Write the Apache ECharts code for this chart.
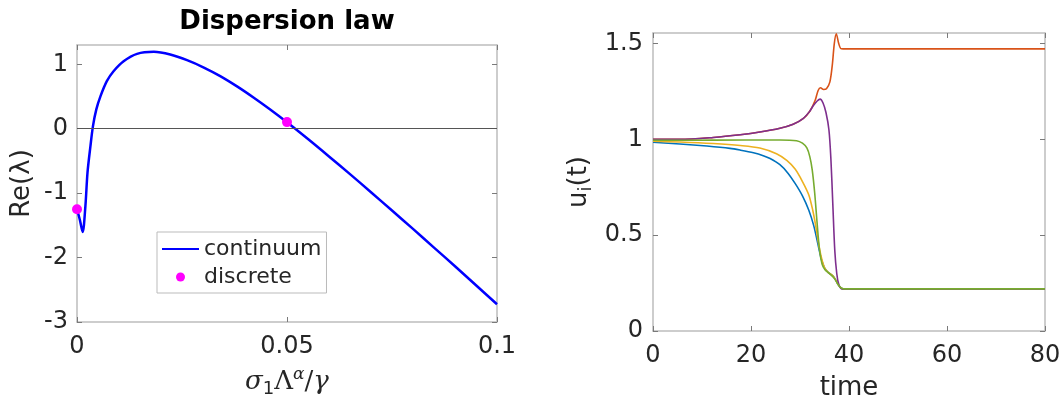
<!DOCTYPE html>
<html>
<head>
<meta charset="utf-8">
<script src="https://cdn.jsdelivr.net/npm/echarts@6/dist/echarts.min.js"></script>
<style>html,body{margin:0;padding:0;background:#fff;}#c{width:1064px;height:406px;}</style>
</head>
<body>
<div id="c"></div>
<script>
// ---------- Left panel data: dispersion law ----------
const contX = [0, 0.0007, 0.00135, 0.002, 0.0025, 0.0032, 0.0038, 0.0046, 0.0056, 0.0071, 0.0087, 0.0111, 0.0143, 0.0183, 0.0222, 0.0262, 0.0302, 0.0341, 0.0381, 0.0421, 0.046, 0.05, 0.055, 0.06, 0.065, 0.07, 0.075, 0.08, 0.085, 0.09, 0.095, 0.1];
const contY = [-1.25, -1.42, -1.603, -1.2, -0.68, -0.27, 0.04, 0.30, 0.506, 0.738, 0.893, 1.048, 1.163, 1.194, 1.152, 1.064, 0.95, 0.817, 0.657, 0.481, 0.298, 0.10, -0.16, -0.43, -0.705, -0.985, -1.27, -1.555, -1.845, -2.135, -2.43, -2.725];
const discX = [0, 0.05];
const discY = [-1.25, 0.103];
const leftXTicks = [0, 0.05, 0.1];
const leftYTicks = [-3, -2, -1, 0, 1];

// ---------- Right panel data: u_i(t) ----------
const blueT = [0, 5.5, 11, 15.7, 17.8, 20.5, 22.5, 23.9, 25.9, 27.5, 29, 30.5, 31.8, 32.8, 33.6, 34.3, 35, 35.8, 36.7, 37.3, 38.0, 38.8, 80];
const blueU = [0.985, 0.976, 0.965, 0.953, 0.944, 0.93, 0.915, 0.9, 0.868, 0.825, 0.77, 0.705, 0.63, 0.55, 0.46, 0.38, 0.33, 0.305, 0.288, 0.265, 0.235, 0.22, 0.22];
const orangeT = [0, 5.5, 12.3, 17.8, 21.8, 25.9, 28.6, 30.7, 32.0, 33.1, 33.7, 34.2, 34.8, 35.4, 36.1, 36.6, 37.0, 37.4, 37.9, 38.3, 38.8, 80];
const orangeU = [1.0, 1.0, 1.01, 1.024, 1.038, 1.058, 1.079, 1.11, 1.147, 1.204, 1.255, 1.269, 1.26, 1.264, 1.30, 1.39, 1.50, 1.551, 1.50, 1.474, 1.472, 1.472];
const yellowT = [0, 5.5, 12.3, 17.8, 21.8, 25.2, 27.3, 29, 30.5, 31.8, 32.6, 33.2, 33.9, 34.5, 35.1, 35.8, 36.7, 37.3, 38.0, 38.8, 80];
const yellowU = [0.99, 0.986, 0.978, 0.968, 0.955, 0.925, 0.89, 0.845, 0.78, 0.71, 0.63, 0.55, 0.44, 0.37, 0.325, 0.305, 0.288, 0.265, 0.235, 0.22, 0.22];
const purpleT = [0, 5.5, 12.3, 17.8, 21.8, 25.9, 28.6, 30.7, 32.0, 32.7, 33.5, 34.1, 34.7, 35.3, 35.9, 36.3, 36.7, 37.1, 37.5, 37.9, 38.5, 80];
const purpleU = [1.0, 1.0, 1.01, 1.024, 1.038, 1.058, 1.079, 1.11, 1.147, 1.175, 1.2, 1.21, 1.19, 1.14, 1.05, 0.9, 0.66, 0.42, 0.3, 0.245, 0.22, 0.22];
const greenT = [0, 12.3, 25.9, 29.3, 30.5, 31.4, 32.0, 32.5, 33.0, 33.5, 34.0, 34.5, 35.1, 36.1, 37.1, 37.7, 38.3, 38.9, 80];
const greenU = [0.995, 0.996, 0.997, 0.993, 0.98, 0.955, 0.91, 0.84, 0.72, 0.56, 0.42, 0.35, 0.32, 0.298, 0.272, 0.245, 0.226, 0.22, 0.22];
const rightXTicks = [0, 20, 40, 60, 80];
const rightYTicks = [0, 0.5, 1, 1.5];

const zip = (a, b) => a.map((v, i) => [v, b[i]]);
const FONT = 'DejaVu Sans';
const TXT = '#262626';
const BOX = '#bdbdbd';
const TICK = '#7a7a7a';

function axisBase(opts) {
  return Object.assign({
    type: 'value',
    splitLine: { show: false },
    axisLine: { show: true, onZero: false, lineStyle: { color: BOX, width: 1.5 } },
    axisTick: { show: true, inside: true, length: 5, lineStyle: { color: TICK, width: 1 } },
    axisLabel: { show: true, color: TXT, fontSize: 24, fontFamily: FONT },
    nameTextStyle: { color: TXT, fontSize: 26, fontFamily: FONT }
  }, opts);
}
function withTicks(ax, ticks, showLabel, margin) {
  ax.axisTick.customValues = ticks;
  ax.axisLabel = Object.assign({}, ax.axisLabel, { customValues: ticks, show: showLabel, margin: margin });
  return ax;
}

const serifR = { fontFamily: 'DejaVu Serif', fontSize: 26, color: TXT };
const serifI = { fontFamily: 'DejaVu Serif', fontStyle: 'italic', fontSize: 26, color: TXT };

const option = {
  animation: false,
  backgroundColor: '#fff',
  title: {
    text: 'Dispersion law', left: 287, top: 7, padding: 0, textAlign: 'center',
    textStyle: { fontSize: 26, fontWeight: 'bold', color: '#000', fontFamily: FONT, lineHeight: 30 }
  },
  legend: {
    data: [{ name: 'continuum', itemStyle: { opacity: 0 } }, 'discrete'],
    orient: 'vertical', left: 157, top: 232,
    itemWidth: 37, itemHeight: 9, itemGap: 6,
    padding: [6, 5, 5, 4],
    borderColor: '#bbbbbb', borderWidth: 1, backgroundColor: '#fff',
    textStyle: { fontSize: 22, color: TXT, fontFamily: FONT, lineHeight: 22 }
  },
  grid: [
    { left: 77, top: 45, width: 420, height: 277 },
    { left: 653, top: 33, width: 392, height: 303 }
  ],
  xAxis: [
    withTicks(axisBase({
      gridIndex: 0, position: 'bottom', min: 0, max: 0.1,
      name: '{i|σ}{sub|1}{r|Λ}{sup|α}{r|/}{i|γ}', nameLocation: 'middle', nameGap: 44,
      nameTextStyle: { rich: { i: serifI, r: serifR,
        sub: { fontFamily: FONT, fontSize: 18, color: TXT, padding: [14, 0, 0, 0] },
        sup: { fontFamily: 'DejaVu Serif', fontStyle: 'italic', fontSize: 17, color: TXT, padding: [0, 0, 16, 0] } } }
    }), leftXTicks, true, 13),
    withTicks(axisBase({ gridIndex: 0, position: 'top', min: 0, max: 0.1 }), leftXTicks, false, 8),
    withTicks(axisBase({
      gridIndex: 1, position: 'bottom', min: 0, max: 80,
      name: 'time', nameLocation: 'middle', nameGap: 44
    }), rightXTicks, true, 13),
    withTicks(axisBase({ gridIndex: 1, position: 'top', min: 0, max: 80 }), rightXTicks, false, 8)
  ],
  yAxis: [
    withTicks(axisBase({
      gridIndex: 0, position: 'left', min: -3, max: 1.3,
      name: 'Re(λ)', nameLocation: 'middle', nameGap: 42
    }), leftYTicks, true, 9),
    withTicks(axisBase({ gridIndex: 0, position: 'right', min: -3, max: 1.3 }), leftYTicks, false, 8),
    withTicks(axisBase({
      gridIndex: 1, position: 'left', min: 0, max: 1.555,
      name: '{n|u}{sub|i}{n|(t)}', nameLocation: 'middle', nameGap: 58,
      nameTextStyle: { rich: {
        n: { fontFamily: FONT, fontSize: 26, color: TXT },
        sub: { fontFamily: FONT, fontSize: 18, color: TXT, padding: [14, 0, 0, 0] } } }
    }), rightYTicks, true, 10),
    withTicks(axisBase({ gridIndex: 1, position: 'right', min: 0, max: 1.555 }), rightYTicks, false, 8)
  ],
  series: [
    {
      name: 'continuum', type: 'line', xAxisIndex: 0, yAxisIndex: 0,
      data: zip(contX, contY), symbol: 'none', smooth: 0.3,
      lineStyle: { color: '#0000ff', width: 2.5 }, itemStyle: { color: '#0000ff' },
      markLine: {
        silent: true, symbol: ['none', 'none'], label: { show: false },
        lineStyle: { color: '#555', width: 1, type: 'solid' },
        data: [{ yAxis: 0 }]
      },
      z: 3
    },
    {
      name: 'discrete', type: 'scatter', xAxisIndex: 0, yAxisIndex: 0,
      data: zip(discX, discY), symbol: 'circle', symbolSize: 10,
      itemStyle: { color: '#ff00ff', opacity: 1 }, z: 4
    },
    { type: 'line', xAxisIndex: 2, yAxisIndex: 2, data: zip(blueT, blueU), symbol: 'none', smooth: 0.3, lineStyle: { color: '#0072BD', width: 1.6 } },
    { type: 'line', xAxisIndex: 2, yAxisIndex: 2, data: zip(orangeT, orangeU), symbol: 'none', smooth: 0.3, lineStyle: { color: '#D95319', width: 1.6 } },
    { type: 'line', xAxisIndex: 2, yAxisIndex: 2, data: zip(yellowT, yellowU), symbol: 'none', smooth: 0.3, lineStyle: { color: '#EDB120', width: 1.6 } },
    { type: 'line', xAxisIndex: 2, yAxisIndex: 2, data: zip(purpleT, purpleU), symbol: 'none', smooth: 0.3, lineStyle: { color: '#7E2F8E', width: 1.6 } },
    { type: 'line', xAxisIndex: 2, yAxisIndex: 2, data: zip(greenT, greenU), symbol: 'none', smooth: 0.3, lineStyle: { color: '#77AC30', width: 1.6 } }
  ]
};

const chart = echarts.init(document.getElementById('c'), null, { renderer: 'canvas' });
chart.setOption(option);
</script>
</body>
</html>
